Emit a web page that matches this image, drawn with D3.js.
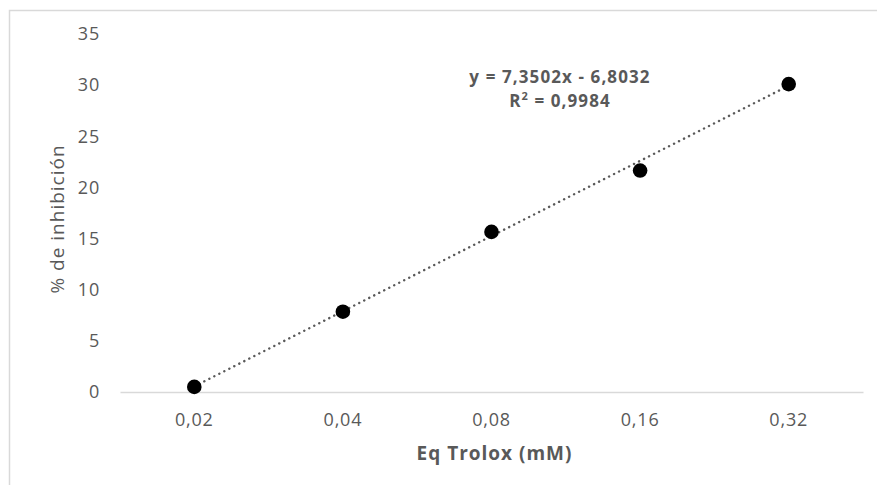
<!DOCTYPE html>
<html>
<head>
<meta charset="utf-8">
<script src="https://cdn.jsdelivr.net/npm/d3@7"></script>
<style>
	body { margin: 0; background: #fff; }
	text { font-family: "Open Sans", sans-serif; fill: #595959; }
</style>
</head>
<body>
<div id="chart-area"></div>
<script>

// Data
var categories = ['0,02', '0,04', '0,08', '0,16', '0,32'];
var inhibition = [0.5, 7.85, 15.65, 21.65, 30.1];
var yTicks     = [0, 5, 10, 15, 20, 25, 30, 35];

// Linear trendline (x = category index 1..5)
var slope     = 7.3502;
var intercept = -6.8032;
var eqLabel   = 'y = 7,3502x - 6,8032';
var r2Label   = '0,9984';


var W = 877, H = 485;
var margin = { top : 34, bottom : 93, left : 120, right : 14 };
var width  = W - margin.left - margin.right;
var height = H - margin.top  - margin.bottom;

var svg = d3.select('#chart-area')
	.append('svg')
		.attr('width', W)
		.attr('height', H);

// Chart area border (only top and left are visible in the crop)
svg.append('path')
	.attr('d', 'M9.5,485 V10.5 H877')
	.attr('fill', 'none')
	.attr('stroke', '#d9d9d9')
	.attr('stroke-width', 1.5);

var g = svg.append('g')
	.attr('transform', 'translate(' + margin.left + ',' + margin.top + ')');

// Category scale for x (points sit in band centres)
var x = d3.scaleBand()
	.domain(categories)
	.range([0, width]);

var y = d3.scaleLinear()
	.domain([0, 35])
	.range([height, 0]);

// position of category index i (1-based) for the trendline
function xi(i) {
	return x(categories[0]) + x.bandwidth() / 2 + (i - 1) * x.step();
}

// y axis: labels only
var yAxis = g.append('g')
	.call(d3.axisLeft(y).tickValues(yTicks).tickSize(0).tickPadding(20));
yAxis.select('.domain').remove();
yAxis.selectAll('text')
	.attr('font-size', '18px')
	.attr('letter-spacing', '0.8px')
	.attr('fill', '#595959');

// x axis
var xAxis = g.append('g')
	.attr('transform', 'translate(0,' + height + ')')
	.call(d3.axisBottom(x).tickSize(0).tickPadding(21));
xAxis.select('.domain')
	.attr('stroke', '#d9d9d9')
	.attr('stroke-width', 1.5);
xAxis.selectAll('text')
	.attr('font-size', '18px')
	.attr('letter-spacing', '0.8px')
	.attr('fill', '#595959');

// Trendline
var line = d3.line()
	.x(function(d) { return xi(d); })
	.y(function(d) { return y(slope * d + intercept); });

g.append('path')
	.datum([1, categories.length])
	.attr('d', line)
	.attr('fill', 'none')
	.attr('stroke', '#595959')
	.attr('stroke-width', 2.4)
	.attr('stroke-linecap', 'round')
	.attr('stroke-dasharray', '0.1,5.5');

// Markers
g.selectAll('circle')
	.data(inhibition)
	.enter()
	.append('circle')
		.attr('cx', function(d, i) { return x(categories[i]) + x.bandwidth() / 2; })
		.attr('cy', function(d) { return y(d); })
		.attr('r', 7.3)
		.attr('fill', '#000');

// Trendline equation
var eq = g.append('text')
	.attr('x', 440)
	.attr('y', 49)
	.attr('text-anchor', 'middle')
	.attr('font-size', '17px')
	.attr('letter-spacing', '1.1px')
	.attr('font-weight', 'bold');
eq.append('tspan').text(eqLabel);
var r2 = g.append('text')
	.attr('x', 440)
	.attr('y', 73)
	.attr('text-anchor', 'middle')
	.attr('font-size', '17px')
	.attr('letter-spacing', '1.1px')
	.attr('font-weight', 'bold');
r2.append('tspan').text('R');
r2.append('tspan').attr('dy', -7).attr('font-size', '11px').text('2');
r2.append('tspan').attr('dy', 7).text(' = ' + r2Label);

// Axis titles
g.append('text')
	.attr('x', width / 2 + 3)
	.attr('y', height + 68)
	.attr('text-anchor', 'middle')
	.attr('font-size', '19px')
	.attr('letter-spacing', '1px')
	.attr('font-weight', 'bold')
	.text('Eq Trolox (mM)');

g.append('text')
	.attr('transform', 'rotate(-90)')
	.attr('x', -(height / 2) - 6)
	.attr('y', -56)
	.attr('text-anchor', 'middle')
	.attr('font-size', '19px')
	.attr('letter-spacing', '1px')
	.text('% de inhibición');

</script>
</body>
</html>
